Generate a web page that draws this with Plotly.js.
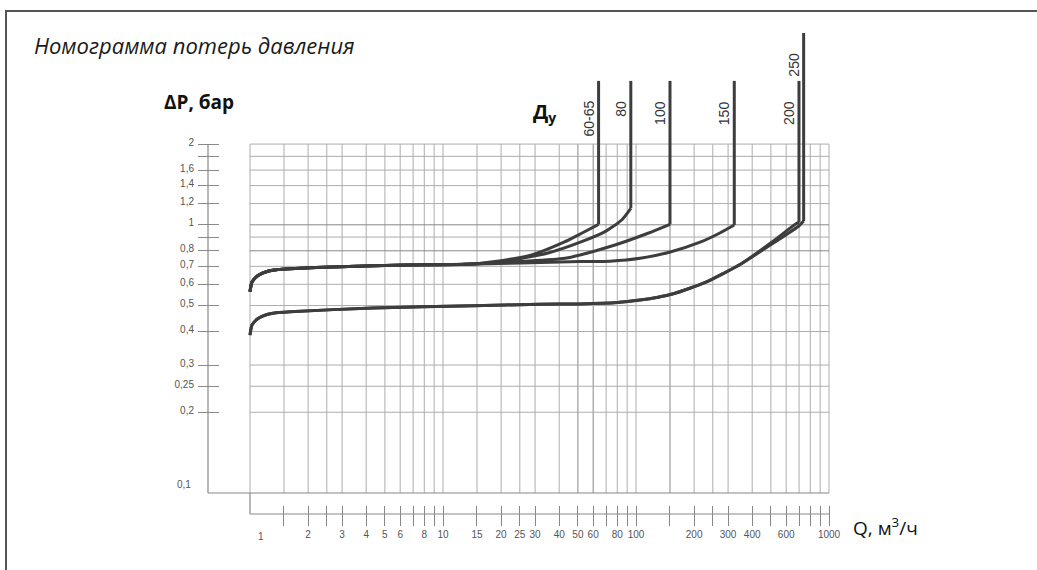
<!DOCTYPE html>
<html><head><meta charset="utf-8">
<script src="https://cdn.plot.ly/plotly-3.0.1.min.js"></script>
<style>html,body{margin:0;padding:0;background:#fff;} #chart{width:1037px;height:570px;}</style>
</head><body><div id="chart"></div>
<script>
// ---------------- DATA ----------------
const seriesNames = ['60-65', '80', '100', '150', '200', '250'];

// common upper branch (Ду 60-65, 80, 100, 150)
const upperQ  = [1, 1.024, 1.100, 1.225, 1.397, 1.611, 2.93, 6.52, 13];
const upperDP = [0.563, 0.612, 0.647, 0.670, 0.681, 0.686, 0.698, 0.708, 0.712];
// common lower branch (Ду 200, 250)
const lowerQ  = [1, 1.024, 1.100, 1.225, 1.397, 1.611, 4.34, 14.3, 31.7, 51.3, 80, 105, 130, 156, 190, 232, 281, 346];
const lowerDP = [0.388, 0.423, 0.447, 0.463, 0.471, 0.474, 0.490, 0.4995, 0.5055, 0.507, 0.513, 0.524, 0.537, 0.553, 0.580, 0.612, 0.656, 0.711];

// individual branches
const q6065  = [20, 28.8, 42.9, 52.3, 64];
const dp6065 = [0.735, 0.772, 0.865, 0.930, 1.004];
const q80    = [20, 35, 52.3, 69.1, 84.3, 94];
const dp80   = [0.728, 0.785, 0.865, 0.943, 1.042, 1.152];
const q100   = [25, 42.9, 77.8, 115.4, 150];
const dp100  = [0.730, 0.750, 0.841, 0.930, 1.004];
const q150   = [51.3, 73.3, 105, 149, 215, 272, 323];
const dp150  = [0.729, 0.732, 0.750, 0.790, 0.861, 0.932, 0.998];
const q200   = [515, 680, 699];
const dp200  = [0.870, 1.013, 1.02];
const q250   = [515, 700, 739];
const dp250  = [0.855, 0.992, 1.033];
// top of the vertical part of each line
const riserTop = [3.44, 3.44, 3.44, 3.44, 3.44, 5.19];

// grid & ticks
const gridQ  = [1, 1.5, 2, 2.5, 3, 4, 5, 6, 7, 8, 9, 10, 15, 20, 25, 30, 40, 50, 60, 70, 80, 90, 100, 150, 200, 250, 300, 400, 500, 600, 700, 800, 900, 1000];
const gridDP = [0.2, 0.25, 0.3, 0.4, 0.5, 0.6, 0.7, 0.8, 0.9, 1, 1.2, 1.4, 1.6, 1.8, 2];
const darkGridQ  = [50, 60, 150];
const darkGridDP = [0.8, 1];
const qTickVals = [1.5, 2, 2.5, 3, 4, 5, 6, 7, 8, 9, 10, 15, 20, 25, 30, 40, 50, 60, 70, 80, 90, 100, 150, 200, 250, 300, 400, 500, 600, 700, 800, 900, 1000];
const qTickText = ['', '2', '', '3', '4', '5', '6', '', '8', '', '10', '15', '20', '25', '30', '40', '50', '60', '', '80', '', '100', '', '200', '', '300', '400', '', '600', '', '', '', '1000'];
const dpTickVals = [0.2, 0.25, 0.3, 0.4, 0.5, 0.6, 0.7, 0.8, 0.9, 1, 1.2, 1.4, 1.6, 1.8, 2];
const dpTickText = ['0,2', '0,25', '0,3', '0,4', '0,5', '0,6', '0,7', '0,8', '', '1', '1,2', '1,4', '1,6', '', '2'];
const qFirstLabel = '1';
const dpFirstLabel = '0,1';
const qMin = 1, qMax = 1000, dpMin = 0.1, dpMax = 2;

// ---------------- LAYOUT GEOMETRY ----------------
const W = 1037, H = 570;
const M = {l: 208, r: 208, t: 30, b: 65};
const plotW = W - M.l - M.r, plotH = H - M.t - M.b;
const pxPerDecX = 193, pxPerDecY = 268.2;
const xRange = [Math.log10(qMax) - plotW / pxPerDecX, Math.log10(qMax)];
const yDomBottom = 12 / plotH;
const yRange = [Math.log10(dpMin), Math.log10(dpMin) + plotH * (1 - yDomBottom) / pxPerDecY];
const L = Math.log10;
const px2paperX = px => (px - M.l) / plotW;
const py2paperY = py => (H - M.b - py) / plotH;
const q2paper = q => (L(q) - xRange[0]) / (xRange[1] - xRange[0]);
const dp2paper = v => yDomBottom + (1 - yDomBottom) * (L(v) - yRange[0]) / (yRange[1] - yRange[0]);

const lineColor = '#3d3d3d';
const branches = [
  {common: [upperQ, upperDP], q: q6065, dp: dp6065},
  {common: [upperQ, upperDP], q: q80, dp: dp80},
  {common: [upperQ, upperDP], q: q100, dp: dp100},
  {common: [upperQ, upperDP], q: q150, dp: dp150},
  {common: [lowerQ, lowerDP], q: q200, dp: dp200},
  {common: [lowerQ, lowerDP], q: q250, dp: dp250}
];

const traces = [];
branches.forEach((b, i) => {
  traces.push({
    type: 'scatter', mode: 'lines', name: 'Ду ' + seriesNames[i],
    x: b.common[0].concat(b.q), y: b.common[1].concat(b.dp),
    line: {color: lineColor, width: 3, shape: 'spline', smoothing: 0.6},
    hoverinfo: 'skip', showlegend: false
  });
  const qe = b.q[b.q.length - 1], de = b.dp[b.dp.length - 1];
  traces.push({
    type: 'scatter', mode: 'lines', name: 'Ду ' + seriesNames[i] + ' (верт.)',
    x: [qe, qe], y: [de, riserTop[i]],
    line: {color: lineColor, width: 3},
    hoverinfo: 'skip', showlegend: false
  });
});

// ---------------- SHAPES ----------------
const shapes = [];
const gridColor = '#adadad', gridDark = '#888888', axisColor = '#888888';
gridQ.forEach(q => shapes.push({type: 'line', layer: 'below', xref: 'paper', yref: 'paper',
  x0: q2paper(q), x1: q2paper(q), y0: dp2paper(dpMin), y1: dp2paper(dpMax),
  line: {color: darkGridQ.includes(q) ? gridDark : gridColor, width: 1}}));
gridDP.forEach(v => shapes.push({type: 'line', layer: 'below', xref: 'paper', yref: 'paper',
  x0: q2paper(qMin), x1: q2paper(qMax), y0: dp2paper(v), y1: dp2paper(v),
  line: {color: darkGridDP.includes(v) ? gridDark : gridColor, width: 1}}));
// bottom line of the grid (ΔP = 0,1) from the left axis
shapes.push({type: 'line', xref: 'paper', yref: 'paper', x0: 0, x1: 1, y0: dp2paper(dpMin), y1: dp2paper(dpMin), line: {color: axisColor, width: 1.2}});
// left axis line
shapes.push({type: 'line', xref: 'paper', yref: 'paper', x0: 0, x1: 0, y0: dp2paper(dpMin), y1: dp2paper(dpMax), line: {color: axisColor, width: 1.2}});
// lower Q axis line
shapes.push({type: 'line', xref: 'paper', yref: 'paper', x0: q2paper(qMin), x1: q2paper(qMax), y0: py2paperY(514), y1: py2paperY(514), line: {color: axisColor, width: 1.2}});
shapes.push({type: 'line', xref: 'paper', yref: 'paper', x0: q2paper(qMin), x1: q2paper(qMin), y0: dp2paper(dpMin), y1: py2paperY(514), line: {color: axisColor, width: 1.2}});
// frame (top + left)
shapes.push({type: 'line', xref: 'paper', yref: 'paper', x0: px2paperX(5), x1: px2paperX(W + 5), y0: py2paperY(11), y1: py2paperY(11), line: {color: '#555', width: 2}});
shapes.push({type: 'line', xref: 'paper', yref: 'paper', x0: px2paperX(6), x1: px2paperX(6), y0: py2paperY(10), y1: py2paperY(H + 5), line: {color: '#555', width: 2}});

// ---------------- ANNOTATIONS ----------------
const tickFont = {family: 'Liberation Sans, Arial, sans-serif', size: 10, color: '#555'};
const annotations = [
  {xref: 'paper', yref: 'paper', x: px2paperX(162), y: py2paperY(102), xanchor: 'left', yanchor: 'middle', showarrow: false,
   text: '<b>ΔP, бар</b>', font: {family: 'Open Sans, sans-serif', size: 19, color: '#111'}},
  {xref: 'paper', yref: 'paper', x: px2paperX(531), y: py2paperY(112), xanchor: 'left', yanchor: 'middle', showarrow: false,
   text: '<b>Д<sub>у</sub></b>', font: {family: 'Open Sans, sans-serif', size: 20, color: '#111'}},
  {xref: 'paper', yref: 'paper', x: px2paperX(851), y: py2paperY(527), xanchor: 'left', yanchor: 'middle', showarrow: false,
   text: 'Q, м<sup>3</sup>/ч', font: {family: 'Open Sans, sans-serif', size: 19, color: '#111'}},
  {xref: 'x', yref: 'paper', x: L(qMin), xshift: 11, y: py2paperY(536), xanchor: 'center', yanchor: 'middle', showarrow: false,
   text: qFirstLabel, font: tickFont},
  {xref: 'paper', yref: 'y', x: px2paperX(193), y: L(dpMin), yshift: 9, xanchor: 'right', yanchor: 'middle', showarrow: false,
   text: dpFirstLabel, font: tickFont}
];
branches.forEach((b, i) => {
  const qe = b.q[b.q.length - 1];
  annotations.push({xref: 'x', yref: 'y', x: L(qe), xshift: -10, y: L(riserTop[i]), yshift: -18,
    xanchor: 'center', yanchor: 'top', textangle: -90, showarrow: false,
    text: seriesNames[i], font: {family: 'Liberation Sans, Arial, sans-serif', size: 14, color: '#333'}});
});

const layout = {
  width: W, height: H,
  margin: M,
  paper_bgcolor: '#fff', plot_bgcolor: 'rgba(0,0,0,0)',
  showlegend: false,
  title: {text: 'Номограмма потерь давления', xref: 'container', yref: 'container',
    x: 34 / W, xanchor: 'left', y: 1 - 46 / H, yanchor: 'middle',
    font: {family: 'Open Sans, sans-serif', size: 22, style: 'italic', color: '#1a1a1a'}},
  xaxis: {type: 'log', range: xRange, anchor: 'free', position: 0,
    showgrid: false, zeroline: false, showline: false,
    ticks: 'outside', ticklen: 20, tickwidth: 1, tickcolor: axisColor,
    tickmode: 'array', tickvals: qTickVals, ticktext: qTickText, tickfont: tickFont,
    automargin: false, fixedrange: true},
  yaxis: {type: 'log', range: yRange, domain: [yDomBottom, 1], anchor: 'free', position: px2paperX(219),
    showgrid: false, zeroline: false, showline: false,
    ticks: 'outside', ticklen: 21, tickwidth: 1, tickcolor: axisColor,
    tickmode: 'array', tickvals: dpTickVals, ticktext: dpTickText, tickfont: tickFont,
    ticklabelshift: -2, ticklabelstandoff: 2,
    automargin: false, fixedrange: true},
  shapes: shapes,
  annotations: annotations
};

Plotly.newPlot('chart', traces, layout, {displayModeBar: false, staticPlot: true});
</script>
</body></html>
